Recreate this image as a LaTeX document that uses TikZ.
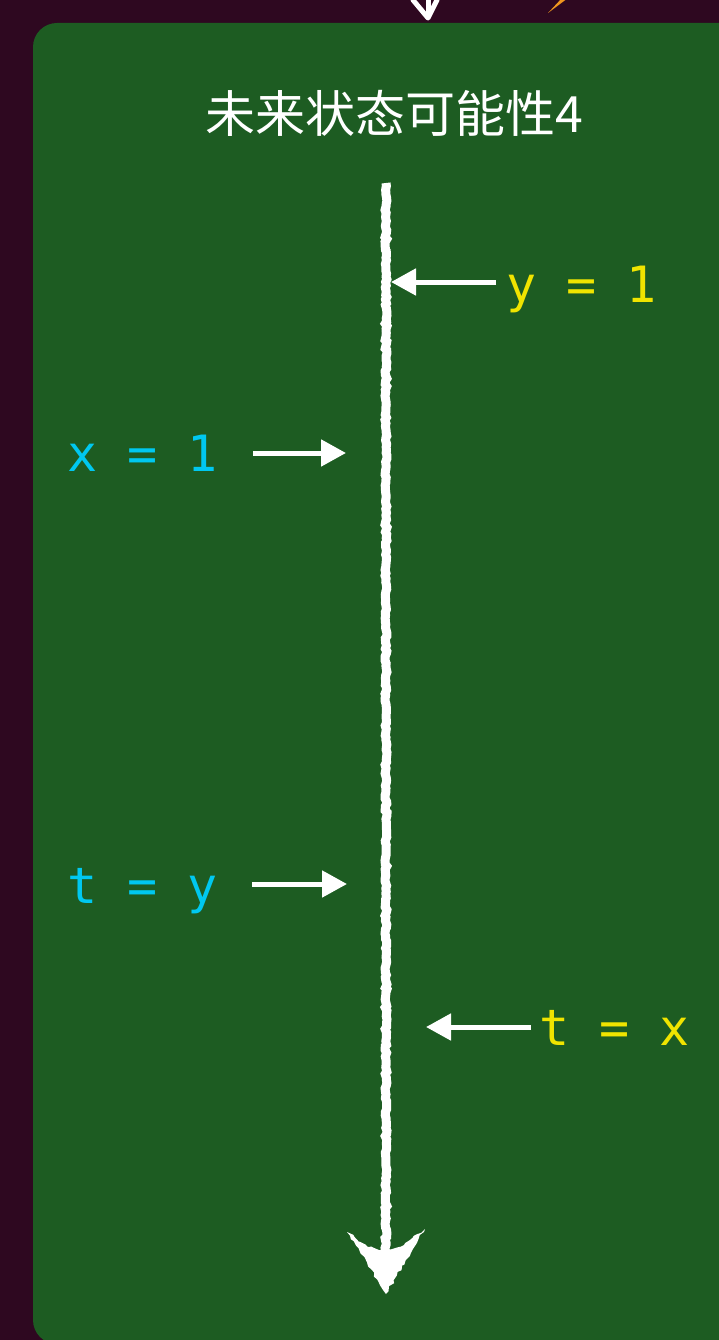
\documentclass[tikz,border=0pt]{standalone}
\usepackage{fontspec}
\setmainfont{DejaVu Sans}
\newfontfamily\cjk{Noto Sans CJK SC}
\newfontfamily\monofnt{DejaVu Sans Mono}
\usetikzlibrary{arrows.meta,decorations.pathmorphing}
\definecolor{bgpurple}{RGB}{46,8,32}
\definecolor{board}{RGB}{29,92,34}
\definecolor{lblcyan}{RGB}{0,200,240}
\definecolor{lblyellow}{RGB}{240,228,0}
\definecolor{sparkorange}{RGB}{240,150,30}
\tikzset{
  lbl/.style={font=\monofnt\fontsize{50}{50}\selectfont, inner sep=0pt, anchor=base west},
  pointer/.style={draw=white, line width=5pt, -{Triangle[length=25pt,width=26pt]}},
  chalk/.style={draw=white, line width=9pt, decorate, decoration={random steps, segment length=3pt, amplitude=1pt}},
}
\begin{document}
\begin{tikzpicture}[x=1pt,y=-1pt]
\useasboundingbox (0,0) rectangle (719,1340);
\fill[bgpurple] (0,0) rectangle (719,1340);
\fill[board, rounded corners=24pt] (33,23) rectangle (743,1344);
% fragments of connectors coming from above
\draw[white, line width=5pt, line cap=round, line join=round] (413,0) -- (428,18) -- (437,0);
\draw[white, line width=5pt] (428,0) -- (428,16);
\fill[sparkorange] (548,13) -- (562,-2) -- (568,-2) -- cycle;
% title
\node[font=\cjk\fontsize{50}{50}\selectfont, text=white, inner sep=0pt, anchor=base] (title) at (394,133) {未来状态可能性4};
% main timeline
\coordinate (top) at (386,183);
\coordinate (bot) at (386,1262);
\draw[chalk] (top) -- (bot);
\fill[white, decorate, decoration={random steps, segment length=4pt, amplitude=1.5pt}]
  (347,1232) -- (386,1294) -- (425,1229) -- (404,1245) -- (386,1252) -- (368,1247) -- cycle;
% labels
\node[lbl, text=lblyellow] (y1) at (506,302) {y = 1};
\node[lbl, text=lblcyan] (x1) at (67,471) {x = 1};
\node[lbl, text=lblcyan] (ty) at (67,903) {t = y};
\node[lbl, text=lblyellow] (tx) at (539,1045) {t = x};
% pointer targets on the timeline
\coordinate (py1) at (391,282);
\coordinate (px1) at (346,453);
\coordinate (pty) at (347,884);
\coordinate (ptx) at (426,1027);
\coordinate (sy1) at (496,282);
\coordinate (sx1) at (253,453);
\coordinate (sty) at (252,884);
\coordinate (stx) at (531,1027);
\draw[pointer] (sy1) -- (py1);
\draw[pointer] (sx1) -- (px1);
\draw[pointer] (sty) -- (pty);
\draw[pointer] (stx) -- (ptx);
\end{tikzpicture}
\end{document}
